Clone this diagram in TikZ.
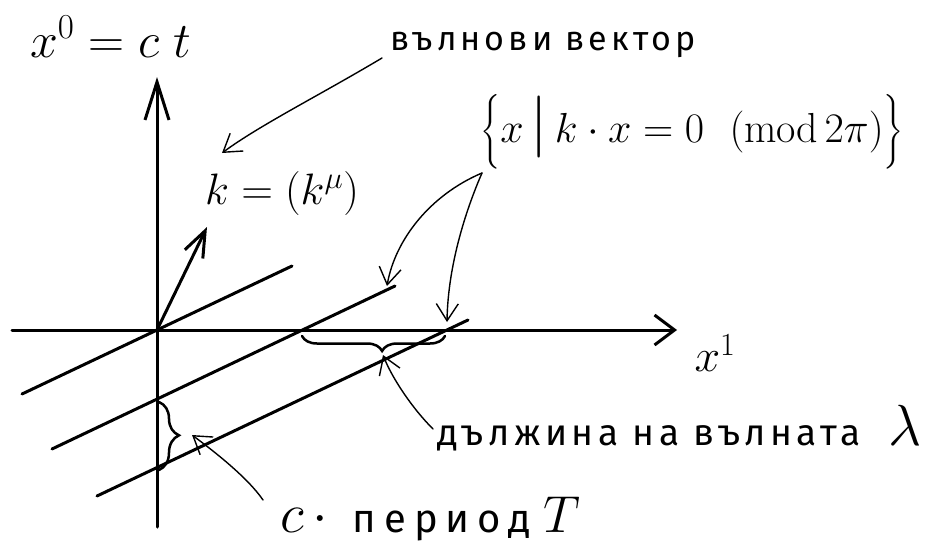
\RequirePackage{fix-cm}
\documentclass[tikz,border=0pt]{standalone}
\usepackage{amsmath}
\usepackage{fontspec}
\newfontfamily\hand[LetterSpace=12]{Fira Sans}
\newfontfamily\handwide[LetterSpace=20]{Fira Sans}
\usetikzlibrary{arrows.meta,decorations.pathreplacing}
\newcommand{\tallbar}{\mbox{\fontsize{62}{62}\selectfont$|$}}
\begin{document}
\begin{tikzpicture}[x=1pt,y=-1pt,
  axis/.style={line width=3pt, line cap=round},
  wave/.style={line width=3pt, line cap=round},
  note/.style={line width=1.4pt, line cap=round, -{Straight Barb[length=17pt,width=22pt]}},
  brc/.style={line width=2.5pt, line cap=round, decorate},
  lbl/.style={inner sep=0pt, outer sep=0pt}
]
\useasboundingbox (0,0) rectangle (942,554);
% axes
\coordinate (O) at (157,330);
\coordinate (ytop) at (157,77);
\coordinate (ybot) at (157,527);
\coordinate (xl) at (12,330);
\coordinate (xr) at (677,330);
\coordinate (ktip) at (207,227);
\draw[axis, -{Straight Barb[length=38pt,width=24pt]}] (ybot) -- (ytop);
\draw[axis, -{Straight Barb[length=20pt,width=30pt]}] (xl) -- (xr);
\draw[axis, -{Straight Barb[length=26pt,width=20pt]}] (O) -- (ktip);
% wave fronts
\coordinate (a1) at (22,394); \coordinate (b1) at (292,266);
\coordinate (a2) at (52,449); \coordinate (b2) at (395,286);
\coordinate (a3) at (97,496); \coordinate (b3) at (468,320);
\draw[wave] (a1) -- (b1);
\draw[wave] (a2) -- (b2);
\draw[wave] (a3) -- (b3);
% braces
\coordinate (hb1) at (302,336); \coordinate (hb2) at (445,336);
\draw[brc, decoration={brace, mirror, amplitude=15pt, aspect=0.56}] (hb1) -- (hb2);
\coordinate (vb1) at (159,402); \coordinate (vb2) at (159,470);
\draw[brc, decoration={brace, amplitude=20pt, aspect=0.49}] (vb1) -- (vb2);
% labels
\node[lbl, anchor=base west] (xzero) at (30,57) {\fontsize{50}{54}\selectfont $x^0 = c\;t$};
\node[lbl] (kvec) at (282,193) {\fontsize{44}{48}\selectfont $k = (k^{\mu})$};
\node[lbl] (set) at (692,132) {\fontsize{42}{46}\selectfont $\Bigl\{x\,\tallbar\,k\cdot x = 0\ \ (\mathrm{mod}\,2\pi)\Bigr\}$};
\node[lbl] (xone) at (715,353) {\fontsize{46}{50}\selectfont $x^1$};
\node[lbl, anchor=base west] (wv) at (390,50) {\fontsize{34}{38}\selectfont\hand вълнови вектор};
\node[lbl, anchor=base west] (lam) at (437,445) {\fontsize{37}{40}\selectfont\hand дължина на вълната\ \ {\fontsize{58}{60}\selectfont$\lambda$}};
\node[lbl, anchor=base west] (per) at (280,532) {\fontsize{40}{44}\selectfont {\fontsize{56}{60}\selectfont$c\,\cdot$}\ \ {\handwide период}\ {\fontsize{52}{56}\selectfont$T$}};
% annotation arrows
\coordinate (wvs) at (382,58);
\coordinate (kv) at (222,153);
\draw[note] (wvs) .. controls (320,95) and (260,125) .. (kv);
\coordinate (sets) at (482,173);
\coordinate (w2) at (387,286);
\coordinate (w3) at (447,322);
\draw[note] (sets) .. controls (430,195) and (395,240) .. (w2);
\draw[note] (sets) .. controls (468,205) and (448,262) .. (w3);
\coordinate (lams) at (433,429);
\coordinate (lt) at (383,355);
\draw[note] (lams) .. controls (412,408) and (392,378) .. (lt);
\coordinate (pers) at (263,500);
\coordinate (pt) at (192,435);
\draw[note] (pers) .. controls (248,478) and (215,452) .. (pt);
\end{tikzpicture}
\end{document}
